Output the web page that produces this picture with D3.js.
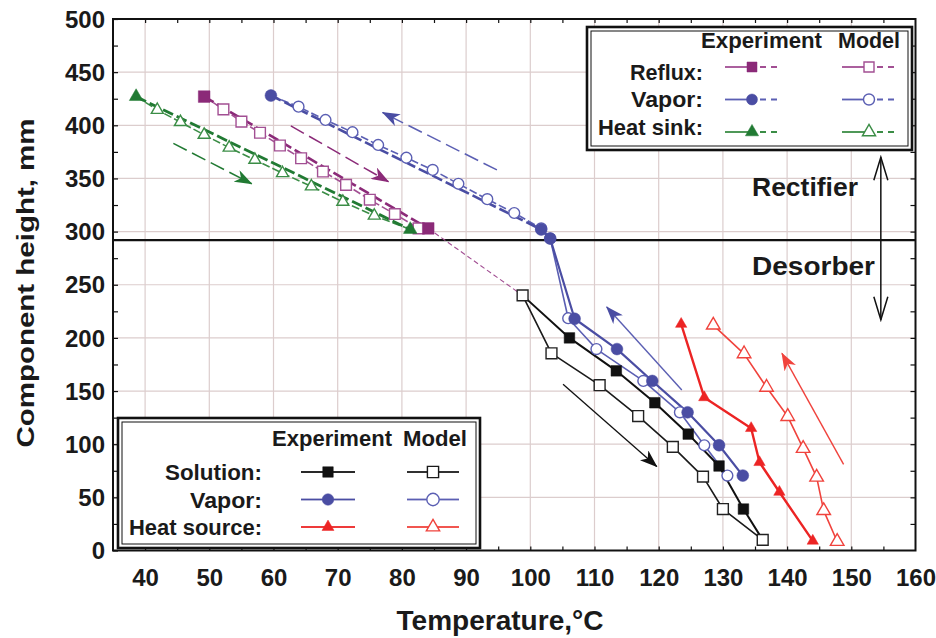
<!DOCTYPE html>
<html>
<head>
<meta charset="utf-8">
<script src="https://cdn.jsdelivr.net/npm/d3@7"></script>
<style>
  html, body { margin: 0; padding: 0; background: #fff; }
  svg { display: block; font-family: "Liberation Sans", Arial, Helvetica, sans-serif; }
</style>
</head>
<body>
<svg id="chart" width="936" height="638"></svg>
<script>
// Temperature (°C) vs. component height (mm) along the rectifier and desorber.
// Every point is [temperature, height].

// Rectifier
const refluxExp   = [[49.2, 427], [84.1, 303]];
const refluxModel = [[49.2, 427], [52.2, 415], [55.0, 403.5], [57.9, 393], [61.0, 381], [64.3, 369],
                     [67.7, 356.5], [71.3, 344], [75.0, 330], [78.9, 316.5], [82.6, 303]];
const refluxLink  = [[84.1, 303], [98.8, 240]];
const sinkExp     = [[38.6, 427], [81.3, 302]];
const sinkModel   = [[38.6, 427], [41.9, 414.5], [45.5, 403], [49.2, 391], [53.1, 379], [57.1, 367.5],
                     [61.4, 355], [65.9, 342.5], [70.8, 328], [75.7, 315], [81.3, 302]];

// Vapor runs through both sections
const vaporExp   = [[59.6, 428], [101.7, 302], [103.1, 293.5], [106.9, 218], [113.5, 189.5],
                    [119.0, 159.5], [124.5, 130], [129.4, 99], [133.1, 70.5]];
const vaporModel = [[59.6, 428], [63.9, 417.5], [68.1, 405], [72.3, 393.5], [76.3, 381.5], [80.7, 369.5],
                    [84.8, 358], [88.8, 345], [93.3, 330.5], [97.5, 317.5], [101.7, 303],
                    [103.1, 293.5], [105.9, 218.5], [110.3, 189.5], [117.6, 159.5], [123.3, 130],
                    [127.1, 99], [130.7, 70.5]];

// Desorber
const solutionExp   = [[106.1, 200], [113.4, 169], [119.4, 139], [124.6, 109.5], [129.4, 79.5], [133.2, 39]];
const solutionModel = [[98.8, 240], [103.3, 185.5], [110.8, 155.5], [116.8, 126.5], [122.2, 97.5],
                       [126.9, 69.5], [130.0, 39], [136.2, 10]];
const sourceExp     = [[123.5, 213], [127.1, 144], [134.4, 115], [135.7, 83], [138.8, 55], [144.0, 9]];
const sourceModel   = [[128.5, 212], [133.3, 185], [136.8, 153.5], [140.1, 126], [142.5, 96],
                       [144.6, 69], [145.7, 37.5], [147.8, 8.5]];

// Flow-direction arrows, [tail, tip]
const arrowSink      = [[44.4, 383], [56.6, 345]];
const arrowReflux    = [[62.7, 399.5], [77.9, 347]];
const arrowVaporRect = [[94.8, 358], [77.0, 412]];
const arrowVaporDes  = [[123.6, 151], [111.9, 229]];
const arrowSolution  = [[105.1, 156.5], [119.7, 79]];
const arrowSource    = [[148.8, 81], [139.2, 185.5]];
const zoneArrow      = [[154.6, 370], [154.6, 217]];

const boundaryHeight = 292;
const xTickValues = d3.range(40, 161, 10);
const yTickValues = d3.range(0, 501, 50);
const zoneLabels = ["Rectifier", "Desorber"];
const xTitle = "Temperature,°C";
const yTitle = "Component height, mm";

// ---------------------------------------------------------------------------
const svg = d3.select("#chart");
const x = d3.scaleLinear().domain([35, 160]).range([113, 915.5]);
const y = d3.scaleLinear().domain([0, 500]).range([550.5, 19]);
const line = d3.line().x(d => x(d[0])).y(d => y(d[1]));

const C = {
  reflux:   { dark: "#8b2a78", light: "#a24f93" },
  vapor:    { dark: "#4a4da3", light: "#5b5fb3" },
  sink:     { dark: "#217a33", light: "#3b8d46" },
  solution: { dark: "#111111", light: "#1a1a1a" },
  source:   { dark: "#ec2424", light: "#f0433d" }
};

// arrowheads
const defs = svg.append("defs");
function barbHead(id, color) {
  defs.append("marker").attr("id", id)
    .attr("markerUnits", "userSpaceOnUse").attr("viewBox", "0 0 18 13")
    .attr("markerWidth", 18).attr("markerHeight", 13).attr("refX", 17).attr("refY", 6.5)
    .attr("orient", "auto")
    .append("path").attr("d", "M0,0 L18,6.5 L0,13 L5,6.5 Z").attr("fill", color);
}
barbHead("hSink", C.sink.dark);
barbHead("hReflux", C.reflux.dark);
barbHead("hVapor", C.vapor.dark);
barbHead("hSolution", "#111");
barbHead("hSource", C.source.light);
defs.append("marker").attr("id", "hOpen")
  .attr("markerUnits", "userSpaceOnUse").attr("viewBox", "-1 -1 26 16")
  .attr("markerWidth", 26).attr("markerHeight", 16).attr("refX", 23).attr("refY", 7)
  .attr("orient", "auto-start-reverse")
  .append("path").attr("d", "M0,0 L23,7 L0,14").attr("fill", "none")
  .attr("stroke", "#111").attr("stroke-width", 1.5);

// grid
const grid = svg.append("g");
grid.selectAll("line.v").data(xTickValues.filter(t => t < 160)).join("line")
  .attr("x1", d => x(d)).attr("x2", d => x(d)).attr("y1", y(500)).attr("y2", y(0))
  .attr("stroke", "#dccdcd").attr("stroke-width", 1.2);
grid.selectAll("line.h").data(yTickValues.filter(t => t > 0 && t < 500)).join("line")
  .attr("y1", d => y(d)).attr("y2", d => y(d)).attr("x1", x(35)).attr("x2", x(160))
  .attr("stroke", "#dccdcd").attr("stroke-width", 1.2);

// section boundary
svg.append("line").attr("x1", x(35)).attr("x2", x(160))
  .attr("y1", y(boundaryHeight)).attr("y2", y(boundaryHeight))
  .attr("stroke", "#111").attr("stroke-width", 2.2);

// helpers
function path(data, color, width, dash) {
  svg.append("path").datum(data).attr("d", line).attr("fill", "none")
    .attr("stroke", color).attr("stroke-width", width)
    .attr("stroke-dasharray", dash || null).attr("stroke-linejoin", "round");
}
const SYM = { square: d3.symbolSquare, circle: d3.symbolCircle, triangle: d3.symbolTriangle };
function marks(data, shape, size, color, filled) {
  svg.append("g").selectAll("path").data(data).join("path")
    .attr("transform", d => `translate(${x(d[0])},${y(d[1])})`)
    .attr("d", d3.symbol(SYM[shape], size))
    .attr("fill", filled ? color : "#fff")
    .attr("stroke", color).attr("stroke-width", filled ? 0.5 : 1.4);
}
function arrow(data, color, width, dash, head) {
  svg.append("line")
    .attr("x1", x(data[0][0])).attr("y1", y(data[0][1]))
    .attr("x2", x(data[1][0])).attr("y2", y(data[1][1]))
    .attr("stroke", color).attr("stroke-width", width)
    .attr("stroke-dasharray", dash || null)
    .attr("marker-end", `url(#${head})`);
}

const above = d => d[1] > boundaryHeight;
const vaporExpRect = vaporExp.filter(above);
const vaporExpDes = [vaporExpRect[vaporExpRect.length - 1], ...vaporExp.filter(d => !above(d))];
const vaporModelRect = vaporModel.filter(above);
const vaporModelDes = [vaporModelRect[vaporModelRect.length - 1], ...vaporModel.filter(d => !above(d))];
const solutionExpLine = [solutionModel[0], ...solutionExp, solutionModel[solutionModel.length - 1]];

// model lines
path(refluxModel, C.reflux.light, 1.6, "8,3");
path(sinkModel, C.sink.light, 1.6, "8,3");
path(vaporModelRect, C.vapor.light, 1.6, "8,3");
path(refluxLink, C.reflux.light, 1.1, "5,3");
path(vaporModelDes, C.vapor.light, 1.6);
path(solutionModel, "#1a1a1a", 1.6);
path(sourceModel, C.source.light, 1.6);

// experiment lines
path(refluxExp, C.reflux.dark, 2.6, "11,4");
path(sinkExp, C.sink.dark, 2.8, "11,4");
path(vaporExpRect, C.vapor.dark, 2.6, "11,4");
path(vaporExpDes, C.vapor.dark, 2.2);
path(solutionExpLine, "#111", 2);
path(sourceExp, C.source.dark, 2.4);

// model markers
marks(refluxModel.slice(1), "square", 115, C.reflux.light, false);
marks(sinkModel.slice(1, -1), "triangle", 62, C.sink.light, false);
marks(vaporModel.slice(1), "circle", 92, C.vapor.light, false);
marks(solutionModel, "square", 118, "#222", false);
marks(sourceModel, "triangle", 80, C.source.light, false);

// experiment markers
marks(refluxExp, "square", 136, C.reflux.dark, true);
marks(sinkExp, "triangle", 80, C.sink.dark, true);
marks(vaporExp, "circle", 110, C.vapor.dark, true);
marks(solutionExp, "square", 112, "#111", true);
marks(sourceExp, "triangle", 56, C.source.dark, true);

// flow arrows
arrow(arrowSink, C.sink.dark, 1.5, "15,6", "hSink");
arrow(arrowReflux, C.reflux.dark, 1.5, "15,6", "hReflux");
arrow(arrowVaporRect, C.vapor.light, 1.5, "15,6", "hVapor");
arrow(arrowVaporDes, C.vapor.light, 1.4, null, "hVapor");
arrow(arrowSolution, "#111", 1.3, null, "hSolution");
arrow(arrowSource, C.source.light, 1.4, null, "hSource");
svg.append("line")
  .attr("x1", x(zoneArrow[0][0])).attr("y1", y(zoneArrow[0][1]))
  .attr("x2", x(zoneArrow[1][0])).attr("y2", y(zoneArrow[1][1]))
  .attr("stroke", "#111").attr("stroke-width", 1.5)
  .attr("marker-start", "url(#hOpen)").attr("marker-end", "url(#hOpen)");

// section labels
svg.append("text").attr("x", 752).attr("y", 196).text(zoneLabels[0])
  .attr("font-size", 26).attr("font-weight", "bold").attr("fill", "#1a1a1a")
  .attr("textLength", 106).attr("lengthAdjust", "spacingAndGlyphs");
svg.append("text").attr("x", 752).attr("y", 275).text(zoneLabels[1])
  .attr("font-size", 26).attr("font-weight", "bold").attr("fill", "#1a1a1a")
  .attr("textLength", 123).attr("lengthAdjust", "spacingAndGlyphs");

// axes (ticks point inward on all four sides)
function styleAxis(g) {
  g.select(".domain").remove();
  g.selectAll(".tick line").attr("stroke", "#111").attr("stroke-width", 1.2);
  g.selectAll("text").attr("font-family", "Liberation Sans, Arial, sans-serif")
    .attr("font-weight", "bold").attr("font-size", 24).attr("fill", "#1a1a1a");
}
svg.append("g").attr("transform", `translate(0,${y(0)})`)
  .call(d3.axisBottom(x).tickValues(d3.range(40, 160, 5)).tickSize(-4)
    .tickFormat(d => d % 10 === 0 ? d : ""))
  .call(styleAxis)
  .call(g => g.selectAll("text").attr("y", 18).attr("dy", "0.71em"));
// rightmost label sits at the frame edge
svg.append("g").attr("transform", `translate(0,${y(0)})`)
  .call(d3.axisBottom(x).tickValues([160]).tickSize(0))
  .call(styleAxis)
  .call(g => g.selectAll("text").attr("y", 18).attr("dy", "0.71em"));
svg.append("g").attr("transform", `translate(0,${y(500)})`)
  .call(d3.axisTop(x).tickValues(d3.range(40, 160, 5)).tickSize(-4).tickFormat(""))
  .call(styleAxis);
svg.append("g").attr("transform", `translate(${x(35)},0)`)
  .call(d3.axisLeft(y).tickValues(d3.range(0, 501, 25)).tickSize(-5)
    .tickFormat(d => d % 50 === 0 ? d : ""))
  .call(styleAxis)
  .call(g => g.selectAll("text").attr("x", -8).attr("dy", "0.34em"));
svg.append("g").attr("transform", `translate(${x(160)},0)`)
  .call(d3.axisRight(y).tickValues(d3.range(25, 500, 25)).tickSize(-5).tickFormat(""))
  .call(styleAxis);

// plot frame
svg.append("rect").attr("x", x(35)).attr("y", y(500))
  .attr("width", x(160) - x(35)).attr("height", y(0) - y(500))
  .attr("fill", "none").attr("stroke", "#111").attr("stroke-width", 2);

// axis titles
svg.append("text").attr("x", 500).attr("y", 630).attr("text-anchor", "middle")
  .attr("font-size", 27).attr("font-weight", "bold").attr("fill", "#1a1a1a")
  .attr("textLength", 207).attr("lengthAdjust", "spacingAndGlyphs").text(xTitle);
svg.append("text").attr("transform", "translate(34,283) rotate(-90)").attr("text-anchor", "middle")
  .attr("font-size", 24).attr("font-weight", "bold").attr("fill", "#1a1a1a")
  .attr("textLength", 329).attr("lengthAdjust", "spacingAndGlyphs").text(yTitle);

// legends
function legendBox(x0, y0, x1, y1) {
  svg.append("rect").attr("x", x0).attr("y", y0).attr("width", x1 - x0).attr("height", y1 - y0)
    .attr("fill", "#fff").attr("stroke", "#111").attr("stroke-width", 2.6);
  svg.append("rect").attr("x", x0 + 4).attr("y", y0 + 4).attr("width", x1 - x0 - 8).attr("height", y1 - y0 - 8)
    .attr("fill", "none").attr("stroke", "#111").attr("stroke-width", 1);
}
function legendText(tx, ty, str, anchor, len) {
  svg.append("text").attr("x", tx).attr("y", ty).attr("text-anchor", anchor)
    .attr("font-size", 22).attr("font-weight", "bold").attr("fill", "#1a1a1a")
    .attr("textLength", len).attr("lengthAdjust", "spacingAndGlyphs").text(str);
}
function legendKey(cx, cy, half, lineColor, markColor, shape, size, filled, dashedRight) {
  svg.append("line").attr("x1", cx - half).attr("x2", cx).attr("y1", cy).attr("y2", cy)
    .attr("stroke", lineColor).attr("stroke-width", 1.8);
  svg.append("line").attr("x1", cx).attr("x2", cx + half).attr("y1", cy).attr("y2", cy)
    .attr("stroke", lineColor).attr("stroke-width", 1.8)
    .attr("stroke-dasharray", dashedRight ? "0,8,6,5,6,5" : null);
  svg.append("path").attr("transform", `translate(${cx},${cy})`)
    .attr("d", d3.symbol(SYM[shape], size))
    .attr("fill", filled ? markColor : "#fff").attr("stroke", markColor)
    .attr("stroke-width", filled ? 0.5 : 1.4);
}

// rectifier legend
const rectRows = [
  { label: "Reflux:", len: 73, c: C.reflux, shape: "square", size: 100 },
  { label: "Vapor:", len: 72, c: C.vapor, shape: "circle", size: 95 },
  { label: "Heat sink:", len: 105, c: C.sink, shape: "triangle", size: 75 }
];
legendBox(587, 27, 912, 150);
legendText(701, 48, "Experiment", "start", 121);
legendText(838, 48, "Model", "start", 62);
rectRows.forEach((r, i) => {
  const cy = 67 + i * 32.5;
  legendText(703, 79.5 + i * 27.8, r.label, "end", r.len);
  legendKey(752, cy, 27, r.c.light, r.c.dark, r.shape, r.size, true, true);
  legendKey(869, cy, 27, r.c.light, r.c.light, r.shape, r.size, false, true);
});

// desorber legend
const desRows = [
  { label: "Solution:", len: 97, c: C.solution, shape: "square", size: 110 },
  { label: "Vapor:", len: 72, c: C.vapor, shape: "circle", size: 105 },
  { label: "Heat source:", len: 133, c: C.source, shape: "triangle", size: 62 }
];
legendBox(118, 418, 480, 548);
legendText(272, 446, "Experiment", "start", 120);
legendText(403, 446, "Model", "start", 64);
desRows.forEach((r, i) => {
  const cy = 472 + i * 27.5;
  legendText(262, 480 + i * 27.5, r.label, "end", r.len);
  legendKey(328, cy, 27, r.c.dark, r.c.dark, r.shape, r.size, true, false);
  legendKey(433, cy, 26, r.c.light, r.c.light, r.shape, r.size + 15, false, false);
});
</script>
</body>
</html>
